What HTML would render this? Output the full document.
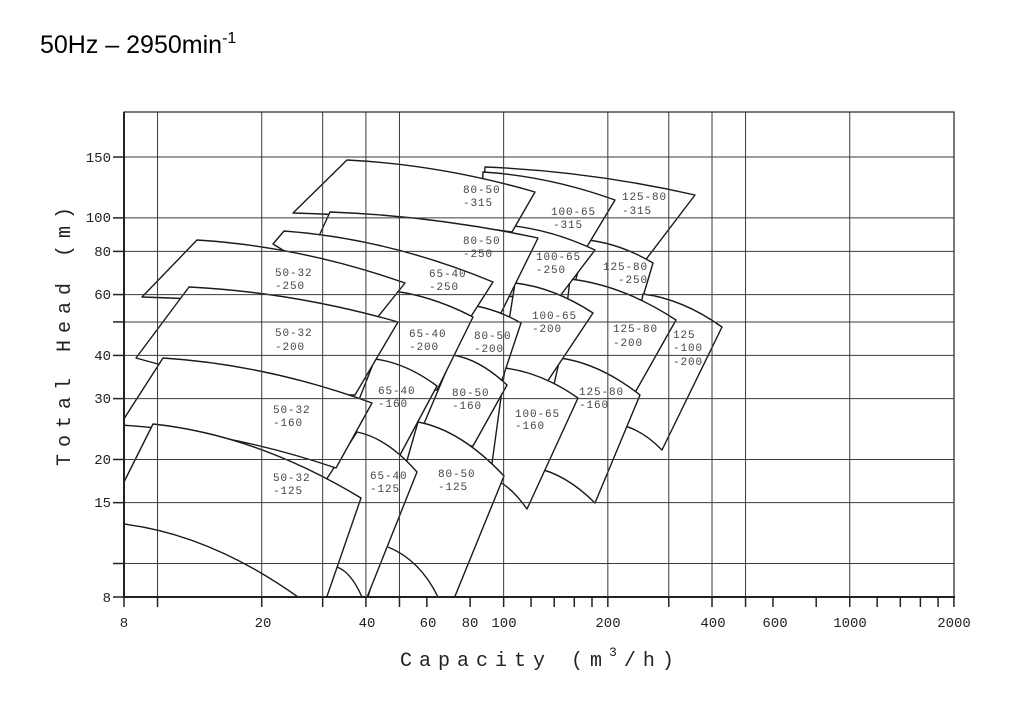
<!DOCTYPE html>
<html><head><meta charset="utf-8">
<style>
html,body{margin:0;padding:0;background:#fff;}
svg{display:block;}
.lb{font-family:"Liberation Mono",monospace;font-size:11px;fill:#444;letter-spacing:0.9px;}
.tk{font-family:"Liberation Mono",monospace;font-size:14px;fill:#222;}
.ax{font-family:"Liberation Mono",monospace;font-size:20px;fill:#222;letter-spacing:7px;}
</style></head>
<body>
<svg id="s" width="1024" height="721" viewBox="0 0 1024 721" xmlns="http://www.w3.org/2000/svg">
<defs><clipPath id="pc"><rect x="124" y="112" width="830" height="485"/></clipPath></defs>
<text x="40" y="53" font-family="Liberation Sans, sans-serif" font-size="25" fill="#000">50Hz – 2950min<tspan font-size="16" dy="-10">-1</tspan></text>
<g id="polys" clip-path="url(#pc)" fill="#fff" stroke="#1a1a1a" stroke-width="1.4" stroke-linejoin="round"></g>
<g id="grid" stroke="#3a3a3a" stroke-width="1" fill="none"></g>
<g id="extra" clip-path="url(#pc)" fill="none" stroke="#1a1a1a" stroke-width="1.4">
<path d="M124,524 Q211,535 298,597"/>
<path d="M337,567 Q351,572 362,597"/>
<path d="M388,547 Q420,560 438,597"/>
</g>
<rect x="124" y="112" width="830" height="485" fill="none" stroke="#222" stroke-width="1.2"/>
<line x1="124" y1="112" x2="124" y2="598" stroke="#222" stroke-width="2"/>
<line x1="124" y1="597" x2="955" y2="597" stroke="#222" stroke-width="2"/>
<g id="ticks" stroke="#222" stroke-width="1.5"></g>
<g class="tk" text-anchor="end">
<text x="111" y="162">150</text><text x="111" y="222">100</text><text x="111" y="256">80</text>
<text x="111" y="299">60</text><text x="111" y="360">40</text><text x="111" y="403">30</text>
<text x="111" y="464">20</text><text x="111" y="507">15</text><text x="111" y="602">8</text>
</g>
<g class="tk" text-anchor="middle">
<text x="124" y="627">8</text><text x="263" y="627">20</text><text x="367" y="627">40</text>
<text x="428" y="627">60</text><text x="470" y="627">80</text><text x="504" y="627">100</text>
<text x="608" y="627">200</text><text x="713" y="627">400</text><text x="775" y="627">600</text>
<text x="850" y="627">1000</text><text x="954" y="627">2000</text>
</g>
<text class="ax" x="400" y="666">Capacity (m<tspan font-size="13" dy="-10">3</tspan><tspan dy="10">/h)</tspan></text>
<text class="ax" transform="translate(70,466) rotate(-90)" x="0" y="0">Total Head (m)</text>
<g class="lb">
<text x="463" y="193">80-50</text><text x="463" y="206">-315</text>
<text x="551" y="215">100-65</text><text x="553" y="228">-315</text>
<text x="622" y="200">125-80</text><text x="622" y="214">-315</text>
<text x="463" y="244">80-50</text><text x="463" y="257">-250</text>
<text x="536" y="260">100-65</text><text x="536" y="273">-250</text>
<text x="603" y="270">125-80</text><text x="618" y="283">-250</text>
<text x="275" y="276">50-32</text><text x="275" y="289">-250</text>
<text x="429" y="277">65-40</text><text x="429" y="290">-250</text>
<text x="532" y="319">100-65</text><text x="532" y="332">-200</text>
<text x="613" y="332">125-80</text><text x="613" y="346">-200</text>
<text x="673" y="338">125</text><text x="673" y="351">-100</text><text x="673" y="365">-200</text>
<text x="275" y="336">50-32</text><text x="275" y="350">-200</text>
<text x="409" y="337">65-40</text><text x="409" y="350">-200</text>
<text x="474" y="339">80-50</text><text x="474" y="352">-200</text>
<text x="378" y="394">65-40</text><text x="378" y="407">-160</text>
<text x="452" y="396">80-50</text><text x="452" y="409">-160</text>
<text x="515" y="417">100-65</text><text x="515" y="429">-160</text>
<text x="579" y="395">125-80</text><text x="579" y="408">-160</text>
<text x="273" y="413">50-32</text><text x="273" y="426">-160</text>
<text x="273" y="481">50-32</text><text x="273" y="494">-125</text>
<text x="370" y="479">65-40</text><text x="370" y="492">-125</text>
<text x="438" y="477">80-50</text><text x="438" y="490">-125</text>
</g>
</svg>
<script>
(function(){
var NS="http://www.w3.org/2000/svg";
function X(q){return 124+346.1*Math.log10(q/8);}
function Y(h){return 597-345.6*Math.log10(h/8);}
var P=[
[485,167,695,195,644,262,480,240,0],
[587,240,653,263,642,300,570,300,0],
[643,294,722,327,662,450,620,425,1],
[570,279,676,320,632,398,558,385,0],
[560,358,640,395,595,503,535,468,1],
[483,172,615,200,585,250,480,235,0],
[505,225,595,250,557,300,500,295,0],
[515,283,593,313,545,385,500,378,0],
[505,368,578,398,527,509,490,478,1],
[347,160,535,192,512,232,293,213,1],
[330,212,538,238,500,315,319,236,0],
[468,305,521,323,502,380,450,365,0],
[453,355,507,385,473,446,415,445,0],
[418,422,504,476,429,660,350,660,0],
[284,231,493,282,470,318,273,244,0],
[385,290,473,317,437,390,360,362,0],
[375,359,437,386,400,455,340,448,0],
[357,432,417,472,342,660,210,660,0],
[197,240,405,283,377,318,142,297,1],
[189,287,398,322,355,395,136,358,0],
[163,358,372,403,336,468,120,425,1],
[153,424,361,498,305,660,35,660,0]
];
var g=document.getElementById("polys");
P.forEach(function(p){
 var c1x=p[0]+0.5*(p[2]-p[0]), c1y=p[1]+0.15*(p[3]-p[1]);
 var c2x,c2y;
 if(p[8]){c2x=p[6]+0.5*(p[4]-p[6]); c2y=p[7]+0.15*(p[5]-p[7]);}
 else {c2x=p[6]+0.6*(p[4]-p[6]); c2y=Math.max(p[5],p[7]);}
 var d="M"+p[0]+","+p[1]+" Q"+c1x+","+c1y+" "+p[2]+","+p[3]+" L"+p[4]+","+p[5]+" Q"+c2x+","+c2y+" "+p[6]+","+p[7]+" Z";
 var e=document.createElementNS(NS,"path"); e.setAttribute("d",d); g.appendChild(e);
});
var gr=document.getElementById("grid");
function ln(par,x1,y1,x2,y2){var l=document.createElementNS(NS,"line");l.setAttribute("x1",x1);l.setAttribute("y1",y1);l.setAttribute("x2",x2);l.setAttribute("y2",y2);par.appendChild(l);}
[10,20,30,40,50,100,200,300,400,500,1000].forEach(function(q){var x=X(q);ln(gr,x,112,x,597);});
[150,100,80,60,50,40,30,20,15,10].forEach(function(h){var y=Y(h);ln(gr,124,y,954,y);});
var tk=document.getElementById("ticks");
[8,10,20,30,40,50,60,80,100,120,140,160,180,200,300,400,500,600,800,1000,1200,1400,1600,1800,2000].forEach(function(q){var x=X(q);ln(tk,x,597,x,607);});
[150,100,80,60,50,40,30,20,15,10,8].forEach(function(h){var y=Y(h);ln(tk,113,y,124,y);});
})();
</script>
</body></html>
